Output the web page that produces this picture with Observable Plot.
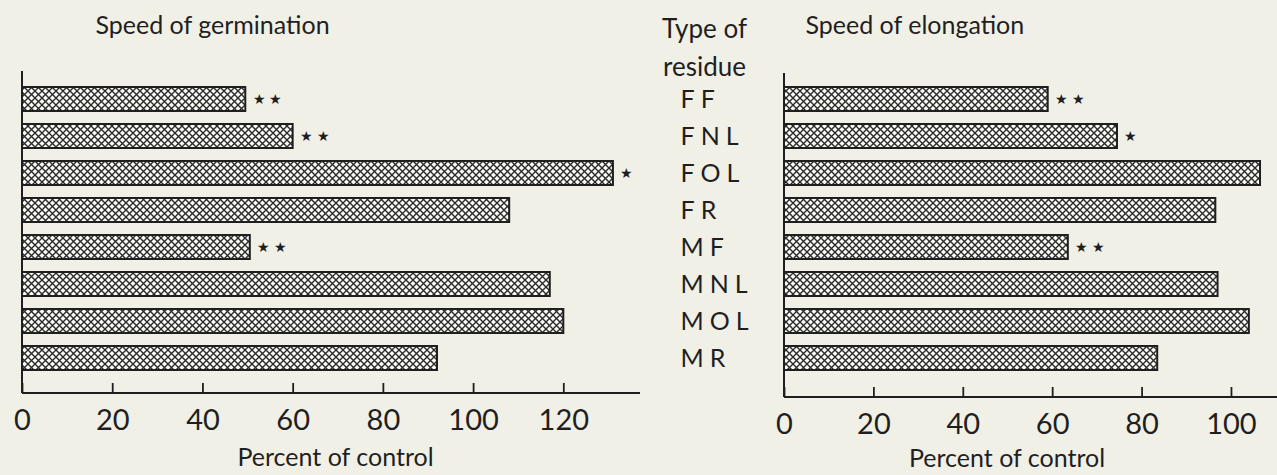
<!DOCTYPE html>
<html>
<head>
<meta charset="utf-8">
<script src="https://cdn.jsdelivr.net/npm/d3@7"></script>
<script src="https://cdn.jsdelivr.net/npm/@observablehq/plot@0.6"></script>
<style>
  html, body { margin: 0; padding: 0; background: #f1f0e7; }
  #wrap { position: relative; width: 1277px; height: 475px; overflow: hidden; background: #f1f0e7; }
  #left, #right { position: absolute; top: 0; }
  #left { left: 0; }
  #right { left: 660px; }
</style>
</head>
<body>
<div id="wrap"><div id="left"></div><div id="right"></div></div>
<script>
// ---- data ----
const types = ["FF", "FNL", "FOL", "FR", "MF", "MNL", "MOL", "MR"];
const germination = [49.5, 60, 131, 108, 50.5, 117, 120, 92];
const elongation = [59, 74.5, 106.5, 96.5, 63.5, 97, 104, 83.5];
const germSig = ["**", "**", "*", "", "**", "", "", ""];
const elongSig = ["**", "*", "", "", "**", "", "", ""];
const germTicks = [0, 20, 40, 60, 80, 100, 120];
const elongTicks = [0, 20, 40, 60, 80, 100];
const germTitle = "Speed of germination";
const elongTitle = "Speed of elongation";
const xLabel = "Percent of control";
const typeHeader = "Type of\nresidue";

const FONT = "Lato, 'Open Sans', sans-serif";
const INK = "#1f1f1f";

function hatchDefs(id) {
  return () => {
    const defs = d3.create("svg:defs");
    const p = defs.append("pattern").attr("id", id)
      .attr("patternUnits", "userSpaceOnUse").attr("width", 7).attr("height", 7);
    p.append("rect").attr("width", 7).attr("height", 7).attr("fill", "#fbfbf6");
    p.append("path").attr("d", "M-1,-1L8,8M8,-1L-1,8")
      .attr("stroke", "#2b2b2b").attr("stroke-width", 1.4).attr("fill", "none");
    return defs.node();
  };
}

function axisLines(index, scales, values, dims) {
  const g = d3.create("svg:g");
  const x0 = scales.x(0);
  const yb = dims.height - dims.marginBottom;
  g.append("line").attr("x1", x0).attr("x2", x0).attr("y1", dims.marginTop).attr("y2", yb)
    .attr("stroke", INK).attr("stroke-width", 2);
  g.append("line").attr("x1", x0).attr("x2", dims.width - dims.marginRight).attr("y1", yb).attr("y2", yb)
    .attr("stroke", INK).attr("stroke-width", 2);
  return g.node();
}

const stars = s => Array.from(s, () => "\u2605").join(" ");

function panel({values, sig, ticks, domain, width, marginLeft, marginRight, marginTop, marginBottom, title, titleDx, labelDx, labelDy, pid, extra}) {
  const rows = types.map((t, i) => ({type: t, value: values[i], sig: sig[i]}));
  const H = 475;
  const frameH = H - marginTop - marginBottom;
  return Plot.plot({
    width, height: H, marginLeft, marginRight, marginTop, marginBottom,
    style: {fontFamily: FONT, background: "transparent", color: INK},
    x: {domain, ticks},
    y: {domain: types, range: [85, 371], paddingInner: 0.36, paddingOuter: 0, axis: null},
    marks: [
      hatchDefs(pid),
      Plot.barX(rows, {x: "value", y: "type", fill: `url(#${pid})`, stroke: INK, strokeWidth: 2}),
      Plot.text(rows.filter(d => d.sig), {x: "value", y: "type", text: d => stars(d.sig),
        textAnchor: "start", dx: 7, fontSize: 14, fill: INK}),
      Plot.ruleX(ticks, {x: d => d, insetTop: frameH - 10, stroke: INK, strokeWidth: 1.8}),
      Plot.axisX({ticks, tickSize: 0, tickPadding: 16, fontSize: 29, label: null, fill: INK}),
      axisLines,
      Plot.text([title], {frameAnchor: "top-left", dx: titleDx, dy: 25 - marginTop,
        textAnchor: "start", lineAnchor: "middle", fontSize: 25, fill: INK}),
      Plot.text([xLabel], {frameAnchor: "bottom", dx: labelDx, dy: labelDy, lineAnchor: "middle",
        fontSize: 25, fill: INK}),
      ...(extra || [])
    ]
  });
}

const left = panel({
  values: germination, sig: germSig, ticks: germTicks, domain: [0, 137],
  width: 660, marginLeft: 22, marginRight: 20, marginTop: 71, marginBottom: 82,
  title: germTitle, titleDx: 73, labelDx: 4, labelDy: 64, pid: "hatchL"
});
document.getElementById("left").appendChild(left);

const right = panel({
  values: elongation, sig: elongSig, ticks: elongTicks, domain: [0, 110.3],
  width: 617, marginLeft: 124, marginRight: 0, marginTop: 73, marginBottom: 78,
  title: elongTitle, titleDx: 21, labelDx: -24, labelDy: 61, pid: "hatchR",
  extra: [
    Plot.text(types, {y: d => d, frameAnchor: "left", dx: -104, textAnchor: "start",
      fontSize: 25, fill: INK}),
    Plot.text([typeHeader], {frameAnchor: "top-left", dx: -80, dy: -29, textAnchor: "middle",
      lineAnchor: "middle", lineHeight: 1.46, fontSize: 26, fill: INK})
  ]
});
document.getElementById("right").appendChild(right);

// widen the letter spacing of the residue-type labels, as in the reference
const typeSet = new Set(types);
right.querySelectorAll("text").forEach(t => {
  if (typeSet.has(t.textContent.trim())) t.setAttribute("letter-spacing", "6");
});
</script>
</body>
</html>
